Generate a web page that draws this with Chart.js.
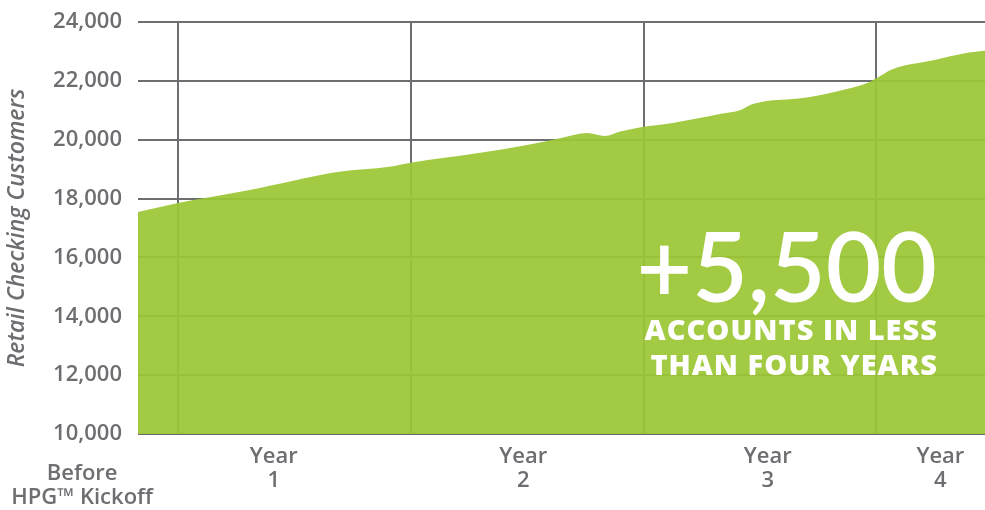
<!DOCTYPE html>
<html>
<head>
<meta charset="utf-8">
<script src="https://cdn.jsdelivr.net/npm/chart.js@4.4.1/dist/chart.umd.min.js"></script>
<style>
  html, body { margin: 0; padding: 0; background: #ffffff; }
  #wrap { width: 985px; height: 510px; position: relative; }
</style>
</head>
<body>
<div id="wrap"><canvas id="c" width="985" height="510"></canvas></div>
<script>
// Months relative to HPG kickoff (0 = kickoff)
const months = [-2.06, 0, 3.7, 8.3, 10.9, 12, 15.5, 18, 19.8, 21.1, 22, 22.8, 24, 25.5, 28, 29, 29.5, 30.2, 32, 34, 35.5, 36, 36.8, 39, 40.5, 41.6];
const customers = [17544, 17850, 18290, 18910, 19080, 19220, 19550, 19820, 20070, 20230, 20130, 20280, 20440, 20570, 20880, 21010, 21180, 21300, 21400, 21650, 21920, 22090, 22390, 22710, 22930, 23020];

const yTicks = [10000, 12000, 14000, 16000, 18000, 20000, 22000, 24000];
const yearGridMonths = [0, 12, 24, 36];
const xLabels = [['Before', 'HPG\u2122 Kickoff'], ['Year', '1'], ['Year', '2'], ['Year', '3'], ['Year', '4']];
const xLabelMonths = [-4.94, 4.94, 17.8, 30.4, 39.3];
const yTitle = 'Retail Checking Customers';
const calloutBig = '+5,500';
const calloutLines = ['ACCOUNTS IN LESS', 'THAN FOUR YEARS'];

const GRAY = '#6d6e71';
const FONT = '"Open Sans", Lato, sans-serif';

const bottomLabels = {
  id: 'bottomLabels',
  afterDraw(chart) {
    const ctx = chart.ctx;
    const xs = chart.scales.x;
    const bottom = chart.chartArea.bottom;
    ctx.save();
    ctx.fillStyle = GRAY;
    ctx.font = '600 22px ' + FONT;
    ctx.textAlign = 'center';
    ctx.textBaseline = 'middle';
    xLabels.forEach((lines, i) => {
      const px = xs.getPixelForValue(xLabelMonths[i]);
      const first = i === 0 ? 40 : 23;
      lines.forEach((t, j) => ctx.fillText(t, px, bottom + first + j * 24));
    });
    ctx.restore();
  }
};

const callout = {
  id: 'callout',
  afterDatasetsDraw(chart) {
    const ctx = chart.ctx;
    const a = chart.chartArea;
    const x = a.right - 48;
    ctx.save();
    ctx.fillStyle = '#ffffff';
    ctx.textAlign = 'right';
    ctx.textBaseline = 'alphabetic';
    ctx.font = '600 96px Lato, "Open Sans", sans-serif';
    ctx.fillText(calloutBig, x, a.top + 280);
    ctx.font = '800 29px ' + FONT;
    try { ctx.letterSpacing = '1px'; } catch (e) {}
    calloutLines.forEach((t, j) => ctx.fillText(t, x + 1, a.top + 318 + j * 35));
    ctx.restore();
  }
};

new Chart(document.getElementById('c'), {
  type: 'line',
  data: {
    datasets: [{
      data: months.map((m, i) => ({ x: m, y: customers[i] })),
      fill: 'start',
      backgroundColor: 'rgba(155,199,53,0.93)',
      borderWidth: 0,
      pointRadius: 0,
      cubicInterpolationMode: 'monotone'
    }]
  },
  options: {
    responsive: false,
    animation: false,
    layout: { padding: { top: 22, right: 0, bottom: 76, left: 0 } },
    plugins: { legend: { display: false }, tooltip: { enabled: false } },
    scales: {
      x: {
        type: 'linear',
        min: months[0],
        max: months[months.length - 1],
        afterBuildTicks: (s) => { s.ticks = yearGridMonths.map(v => ({ value: v })); },
        afterFit: (s) => { s.paddingLeft = 0; s.paddingRight = 0; },
        ticks: { display: false },
        grid: { color: GRAY, lineWidth: 2, drawTicks: false },
        border: { display: false }
      },
      y: {
        min: 10000,
        max: 24000,
        afterBuildTicks: (s) => { s.ticks = yTicks.map(v => ({ value: v })); },
        afterFit: (s) => { s.width = 138; s.paddingTop = 0; s.paddingBottom = 0; },
        ticks: {
          padding: 16,
          color: GRAY,
          font: { family: FONT, size: 22, weight: '600' },
          callback: (v) => v.toLocaleString('en-US')
        },
        grid: { color: GRAY, lineWidth: 2, drawTicks: false },
        border: { display: false },
        title: {
          display: true,
          text: yTitle,
          color: GRAY,
          font: { family: FONT, size: 23, weight: '600', style: 'italic' },
          padding: { top: 4, bottom: 0 }
        }
      }
    }
  },
  plugins: [callout, bottomLabels]
});
</script>
</body>
</html>
